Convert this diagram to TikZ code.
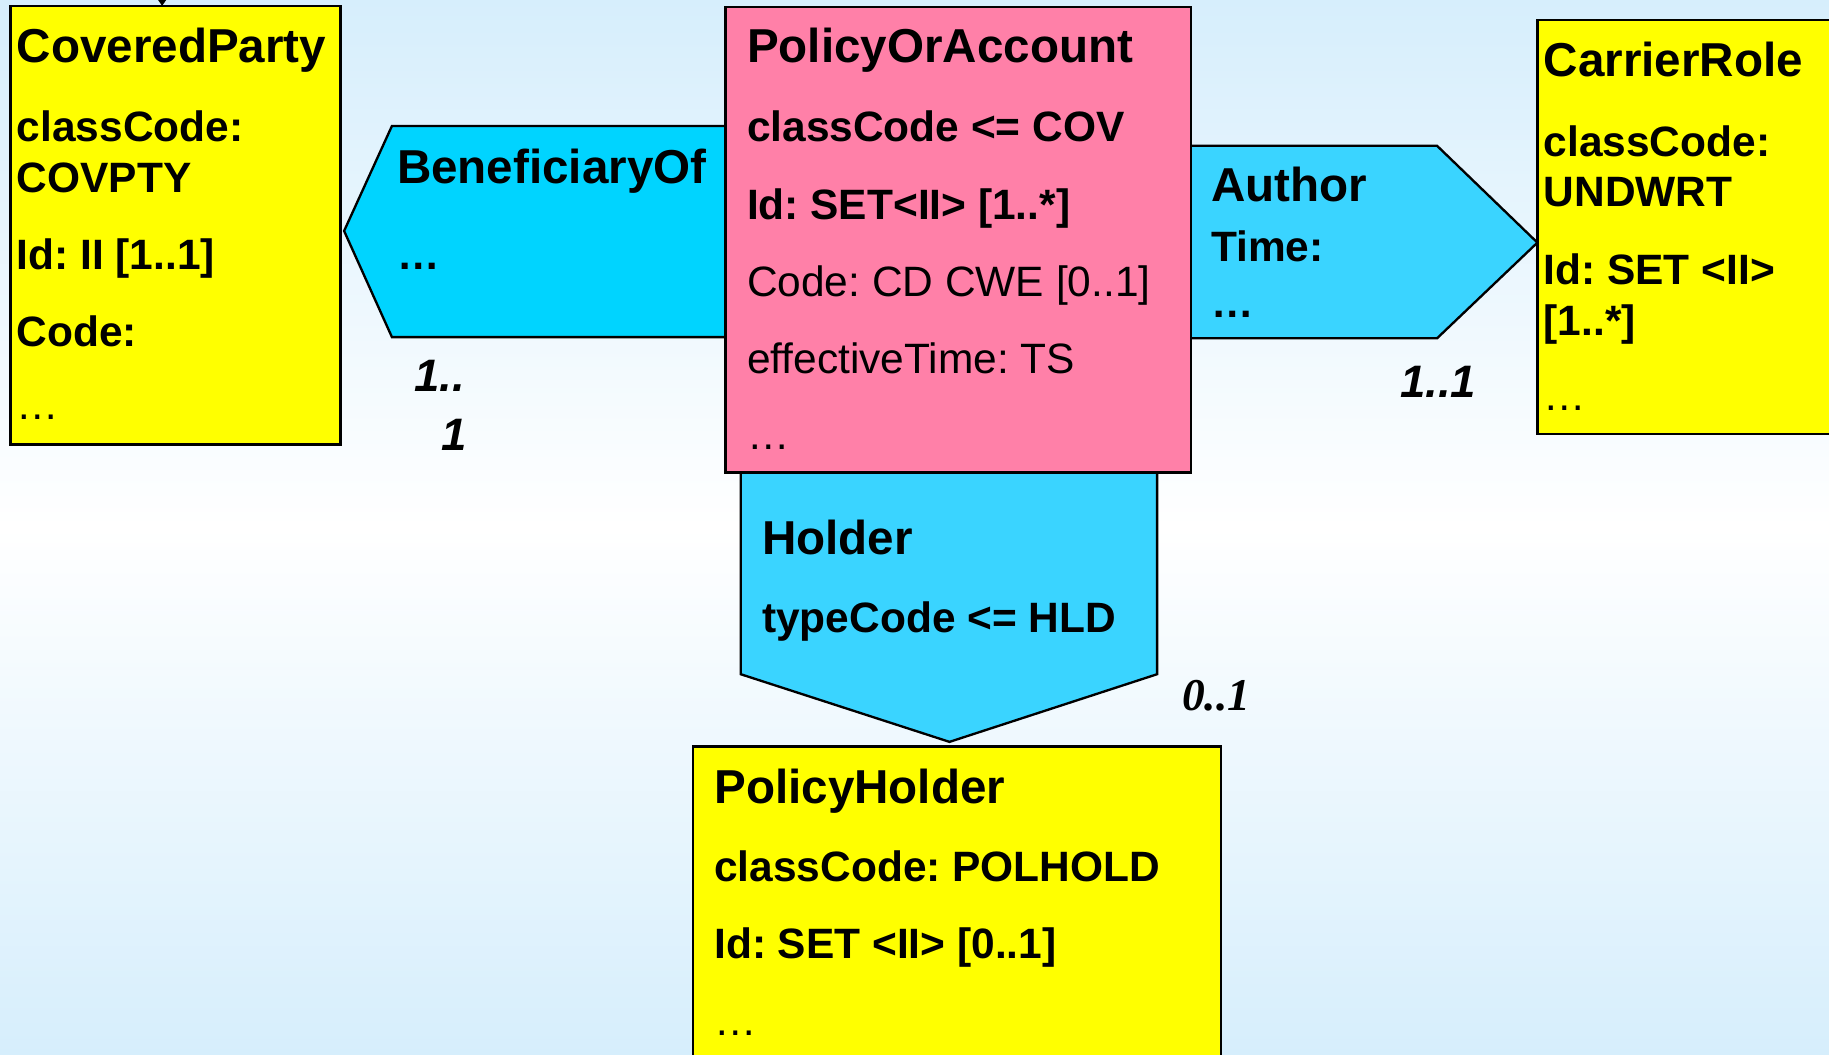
\documentclass[tikz,border=0pt]{standalone}
\usepackage{fontspec}
\setmainfont{Liberation Sans}
\newfontfamily\timesfam{Liberation Serif}
\usetikzlibrary{arrows.meta}
\definecolor{bgblue}{RGB}{214,238,252}
\definecolor{clsyellow}{RGB}{255,255,0}
\definecolor{actpink}{RGB}{255,128,168}
\definecolor{relcyan}{RGB}{0,212,255}
\definecolor{relcyanl}{RGB}{58,212,255}
\frenchspacing
\begin{document}
\frenchspacing
\begin{tikzpicture}[x=0.5pt,y=-0.5pt,
  box/.style={draw=black, line width=1pt, anchor=north west, inner sep=0pt, outer sep=0pt},
  relshape/.style={draw=black, line width=1pt, line join=miter},
  ttl/.style={anchor=base west, inner sep=0pt, font=\fontsize{20.4}{24}\selectfont\bfseries},
  att/.style={anchor=base west, inner sep=0pt, font=\fontsize{18.2}{22}\selectfont\bfseries},
  attr/.style={anchor=base west, inner sep=0pt, font=\fontsize{18.2}{22}\selectfont},
  mult/.style={anchor=base west, inner sep=0pt, font=\fontsize{19.5}{22}\selectfont\bfseries\itshape},
  multser/.style={anchor=base west, inner sep=0pt, font=\fontsize{19.5}{22}\selectfont\timesfam\bfseries\itshape}]
\useasboundingbox (0,0) rectangle (1568,904);
\clip (0,0) rectangle (1568,904);
\shade[top color=bgblue, bottom color=bgblue, middle color=white] (0,0) rectangle (1568,904);

% relationship shapes (drawn behind classes)
\draw[relshape, fill=relcyan] (660,108) coordinate (bnA) -- (336,108) -- (295,198) coordinate (bnTip) -- (336,289) -- (660,289) -- cycle;
\draw[relshape, fill=relcyanl] (990,125) coordinate (auA) -- (1232,125) -- (1318,208) coordinate (auTip) -- (1232,290) -- (990,290) -- cycle;
\draw[relshape, fill=relcyanl] (635,390) coordinate (hoA) -- (635,578) -- (814,636) coordinate (hoTip) -- (992,578) -- (992,390) -- cycle;

% class boxes
\node[box, fill=clsyellow, minimum width=141.5pt, minimum height=188pt] (cp) at (9,5) {};
\node[box, fill=actpink, minimum width=199.5pt, minimum height=199.5pt] (pa) at (622,6) {};
\node[box, fill=clsyellow, minimum width=141pt, minimum height=177.5pt] (cr) at (1318,17) {};
\node[box, fill=clsyellow, minimum width=226.5pt, minimum height=150pt] (ph) at (594,640) {};

% incoming arrow tip on CoveredParty
\coordinate (cpin) at (139,-20);
\draw[line width=0.6pt, -{Triangle[width=4pt,length=3pt]}] (cpin) -- (cp.north -| cpin);

% CoveredParty
\node[ttl] (cp1) at (14,54) {CoveredParty};
\node[att] (cp2) at (14,121) {classCode:};
\node[att] (cp3) at (14,165) {COVPTY};
\node[att] (cp4) at (14,231) {Id: II [1..1]};
\node[att] (cp5) at (14,297) {Code:};
\node[attr] (cp6) at (14,360) {\dots};

% BeneficiaryOf
\node[ttl] (bn1) at (340,157) {BeneficiaryOf};
\node[att] (bn2) at (340,231) {\dots};
\node[mult] (bnm1) at (355,336) {1..};
\node[mult] (bnm2) at (378,386) {1};

% PolicyOrAccount
\node[ttl] (pa1) at (640,54) {PolicyOrAccount};
\node[att] (pa2) at (640,121) {classCode <= COV};
\node[att] (pa3) at (640,188) {Id: SET<II> [1..*]};
\node[attr] (pa4) at (640,254) {Code: CD CWE [0..1]};
\node[attr] (pa5) at (640,320) {effectiveTime: TS};
\node[attr] (pa6) at (640,385) {\dots};

% Author
\node[ttl] (au1) at (1038,173) {Author};
\node[att] (au2) at (1038,224) {Time:};
\node[att] (au3) at (1038,272) {\dots};
\node[mult] (aum) at (1200,341) {1..1};

% CarrierRole
\node[ttl] (cr1) at (1323,66) {CarrierRole};
\node[att] (cr2) at (1323,134) {classCode:};
\node[att] (cr3) at (1323,177) {UNDWRT};
\node[att] (cr4) at (1323,244) {Id: SET <II>};
\node[att] (cr5) at (1323,288) {[1..*]};
\node[attr] (cr6) at (1323,352) {\dots};

% Holder
\node[ttl] (ho1) at (653,475) {Holder};
\node[att] (ho2) at (653,542) {typeCode <= HLD};
\node[multser] (hom) at (1013,609) {0..1};

% PolicyHolder
\node[ttl] (ph1) at (612,689) {PolicyHolder};
\node[att] (ph2) at (612,756) {classCode: POLHOLD};
\node[att] (ph3) at (612,822) {Id: SET <II> [0..1]};
\node[attr] (ph4) at (612,888) {\dots};
\end{tikzpicture}
\end{document}
